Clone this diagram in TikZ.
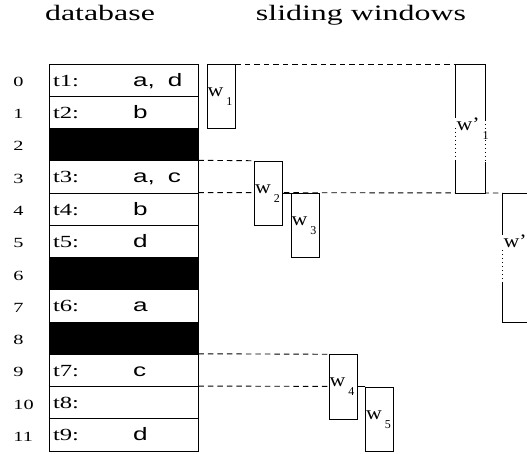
\documentclass[tikz,border=0pt]{standalone}
\usepackage{fontspec}
\setmainfont{Liberation Serif}
\newfontfamily\itemfont{Liberation Sans}
\usetikzlibrary{backgrounds}

% the printed text is set a little wide
\newcommand{\widen}[1]{\scalebox{1.45}[1]{#1}}
% window name with a dropped index
\newcommand{\wsub}[2]{\scalebox{1.15}[1]{#1}\hspace{3pt}\raisebox{-9pt}{\fontsize{12}{12}\selectfont #2}}

\begin{document}
\begin{tikzpicture}[x=1pt,y=-1pt,line width=0.9pt,
  rowbox/.style={draw,minimum width=149pt,minimum height=32.25pt,inner sep=0pt},
  numlab/.style={anchor=base west,inner sep=0pt,font=\fontsize{14}{14}\selectfont},
  tlab/.style={anchor=base west,inner sep=0pt,font=\fontsize{17}{17}\selectfont},
  itemlab/.style={anchor=base west,inner sep=0pt,font=\itemfont\fontsize{18}{18}\selectfont},
  win/.style={draw,fill=white,minimum width=28pt,minimum height=64.5pt,inner sep=0pt},
  bigwin/.style={fill=white,minimum width=29pt,minimum height=129pt,inner sep=0pt},
  winlab/.style={anchor=west,inner sep=0.5pt,font=\fontsize{19}{19}\selectfont},
  gap/.style={line width=0.9pt,dash pattern=on 5.5pt off 4pt},
  dots/.style={dash pattern=on 1pt off 3pt}]
  \useasboundingbox (0,0) rectangle (527,454);
  \clip (0,0) rectangle (527,454);

  \node[font=\fontsize{22}{22}\selectfont,anchor=base] (dbhead) at (100,21) {\widen{database}};
  \node[font=\fontsize{22}{22}\selectfont,anchor=base] (swhead) at (361,21) {\widen{sliding windows}};

  % the database, one row per position
  \foreach \i in {0,...,11} {
    \node[rowbox] (r\i) at (123.5,{80.125+32.25*\i}) {};
    \node[numlab] (n\i) at (13,{86.5+32.25*\i}) {\widen{\i}};
  }
  \foreach \i in {2,6,8}
    \fill (r\i.north west) rectangle (r\i.south east);
  \foreach \i/\tn/\its in {0/1/{a,\enspace d},1/2/b,3/3/{a,\enspace c},4/4/b,5/5/d,
                           7/6/a,9/7/c,10/8/{},11/9/d} {
    \node[tlab] (t\tn) at ([xshift=4pt,yshift=-6pt]r\i.west) {\widen{t\tn:}};
    \node[itemlab] (e\tn) at ([xshift=84pt,yshift=-6pt]r\i.west) {\widen{\its}};
  }

  % windows over the rows
  \node[win] (w1) at (221,0 |- r0.south) {};
  \node[win] (w2) at (268.5,0 |- r3.south) {};
  \node[win] (w3) at (305,0 |- r4.south) {};
  \node[win] (w4) at (343,0 |- r9.south) {};
  \node[win] (w5) at (379.5,0 |- r10.south) {};
  \node[bigwin] (wp1) at (470.5,0 |- r1.south) {};
  \node[bigwin] (wp2) at (517.5,0 |- r5.south) {};

  \node[winlab] (lw1) at (w1.west) {\wsub{w}{1}};
  \node[winlab] (lw2) at (w2.west) {\wsub{w}{2}};
  \node[winlab] (lw3) at (w3.west) {\wsub{w}{3}};
  \node[winlab] (lw4) at (w4.west) {\wsub{w}{4}};
  \node[winlab] (lw5) at (w5.west) {\wsub{w}{5}};
  \node[winlab] (lwp1) at (wp1.west) {\wsub{w'}{1}};
  \node[winlab] (lwp2) at ([yshift=12pt]wp2.west) {\wsub{w'}{2}};

  % the long windows have broken sides
  \draw (wp1.north west) -- (wp1.north east);
  \draw (wp1.south west) -- (wp1.south east);
  \draw (wp1.north west) -- ++(0,54);
  \draw[dots] ([yshift=-64pt]wp1.north west) -- ++(0,32);
  \draw ([yshift=-96pt]wp1.north west) -- (wp1.south west);
  \draw (wp1.north east) -- ++(0,56);
  \draw[dots] ([yshift=-56pt]wp1.north east) -- ++(0,42);
  \draw ([yshift=-98pt]wp1.north east) -- (wp1.south east);

  \draw (wp2.north west) -- (wp2.north east) -- (wp2.south east) -- (wp2.south west);
  \draw (wp2.north west) -- ++(0,42);
  \draw[dots] ([yshift=-57pt]wp2.north west) -- ++(0,32);
  \draw ([yshift=-89pt]wp2.north west) -- (wp2.south west);

  \draw (w2.east |- w3.north) -- (w3.north west);
  \draw (w4.east |- w5.north) -- (w5.north west);

  \begin{scope}[on background layer]
    \draw[gap] (w1.north east) -- (wp1.north west);
    \draw[gap] (r3.north east) -- (w2.north west);
    \draw[gap] (r4.north east) -- (wp2.north west);
    \draw[gap] (r9.north east) -- (w4.north west);
    \draw[gap] (r10.north east) -- (w5.north west);
  \end{scope}
\end{tikzpicture}
\end{document}
